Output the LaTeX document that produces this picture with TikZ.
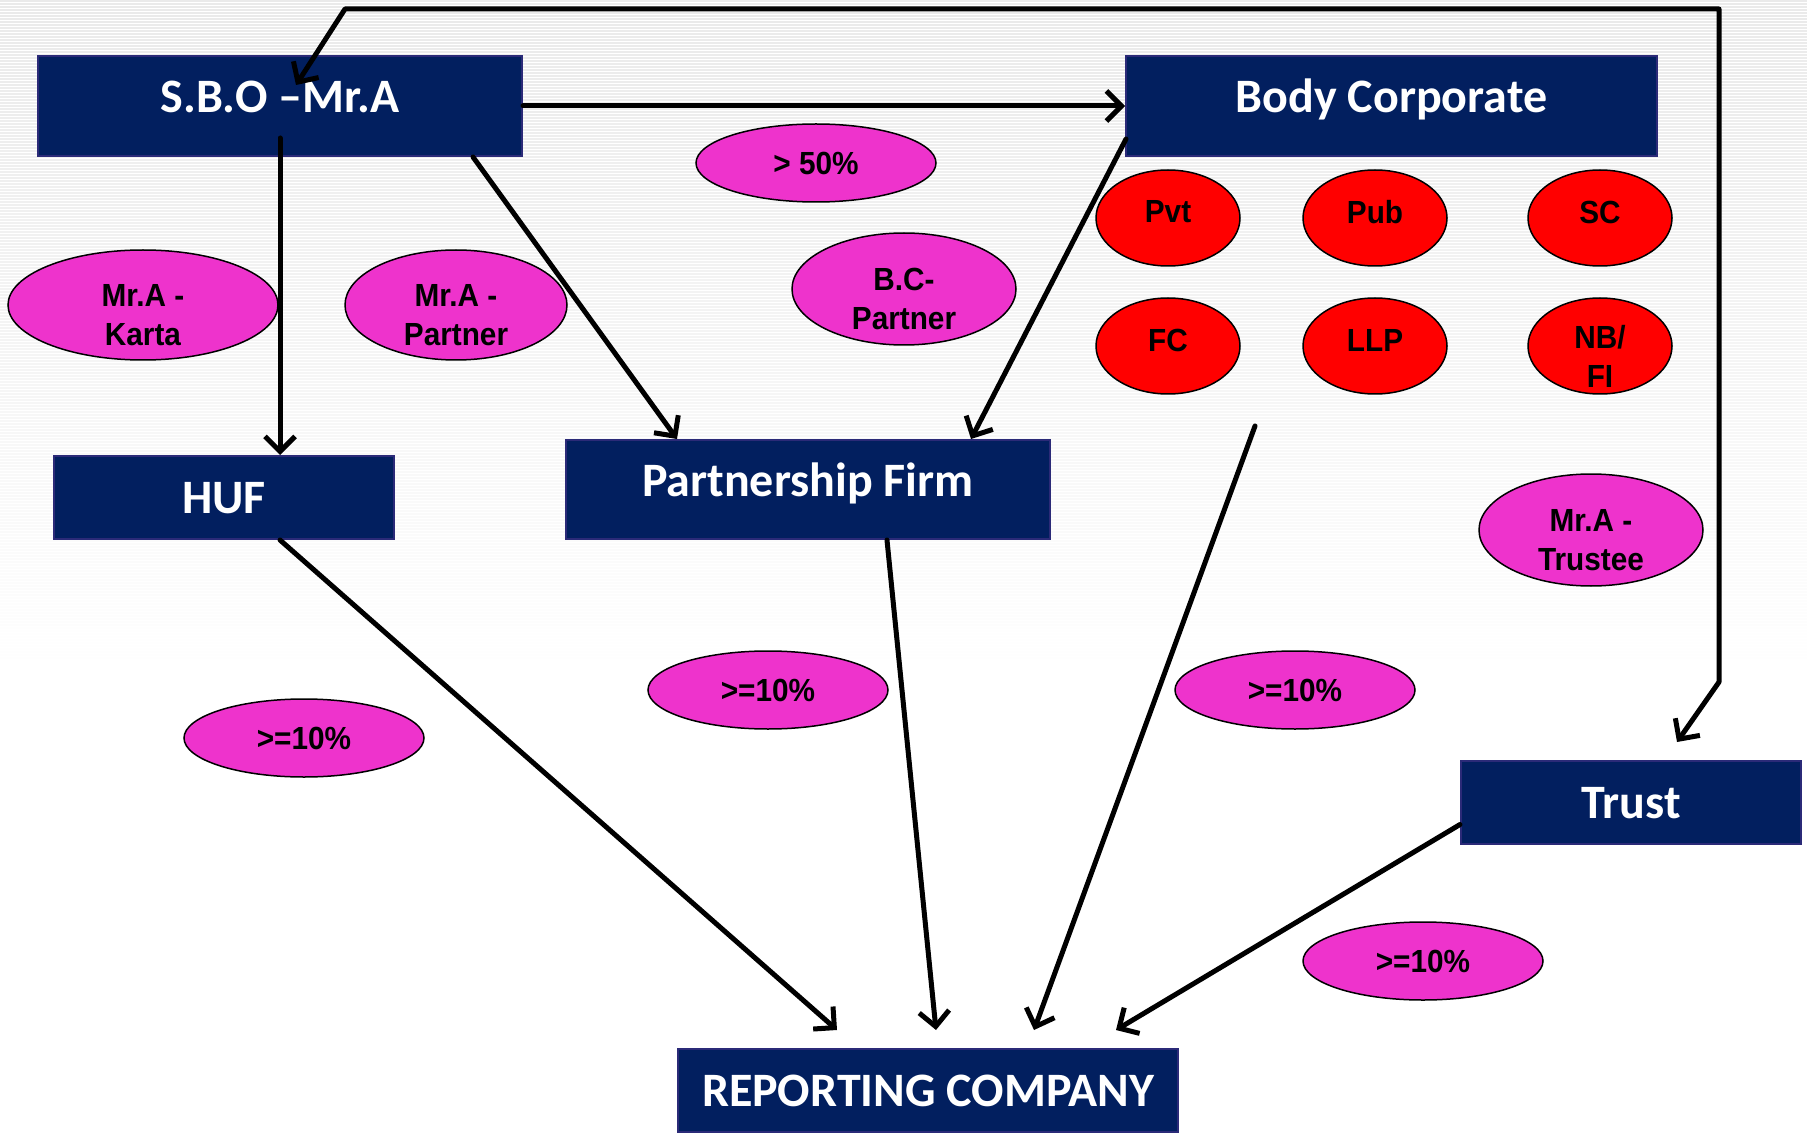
\documentclass[tikz,border=0pt]{standalone}
\usepackage{fontspec}
\setmainfont{Carlito}
\newfontfamily\ellfont[FakeStretch=0.93]{Liberation Sans}
\usetikzlibrary{shapes.geometric,arrows.meta,calc}
\definecolor{navy}{HTML}{021F5F}
\definecolor{navyedge}{HTML}{2B2A78}
\definecolor{pinkfill}{HTML}{EE33CC}
\definecolor{redfill}{HTML}{FF0000}
\begin{document}
\begin{tikzpicture}[x=1pt,y=-1pt,
  entity/.style={rectangle,fill=navy,draw=navyedge,line width=2pt,text=white,
    font=\bfseries\fontsize{48}{52}\selectfont,inner sep=0pt,
    text height=31pt,text depth=0pt},
  raised/.style={text depth=18pt},
  tagtext/.style={align=center,inner sep=0pt,
    font=\ellfont\bfseries\fontsize{32}{39}\selectfont},
  tag/.style={ellipse,fill=pinkfill,draw=black,line width=1.5pt,inner sep=0pt,
    tagtext,minimum width=240pt,minimum height=78pt},
  kind/.style={ellipse,fill=redfill,draw=black,line width=1.5pt,inner sep=0pt,
    tagtext,minimum width=144pt,minimum height=96pt},
  twoline/.style={label={[tagtext,yshift=-10pt]center:{#1}}},
  oneline/.style={label={[tagtext,yshift=6pt]center:{#1}}},
  barb/.tip={Straight Barb[length=15pt,width=30pt]},
  link/.style={line width=5pt,line cap=round,line join=round,-barb}]

% frame and faint striped backdrop
\useasboundingbox (0,0) rectangle (1807,1139);
\fill[white] (0,0) rectangle (1807,1139);
\foreach \y in {1,4,...,660}{
  \pgfmathsetmacro{\op}{0.9*(1-\y/660)}
  \draw[black!9,line width=1.2pt,opacity=\op] (0,\y) -- (1807,\y);
}

% entities
\node[entity,raised,minimum width=484pt,minimum height=100pt] (sbo) at (280,106) {S.B.O –Mr.A};
\node[entity,raised,minimum width=531pt,minimum height=100pt] (bc) at (1391.5,106) {Body Corporate};
\node[entity,minimum width=340pt,minimum height=83pt] (huf) at (224,497.5) {HUF};
\node[entity,raised,minimum width=484pt,minimum height=99pt] (pf) at (808,489.5) {Partnership Firm};
\node[entity,minimum width=340pt,minimum height=83pt] (trust) at (1631,802.5) {Trust};
\node[entity,minimum width=500pt,minimum height=83pt] (rc) at (928,1090.5) {REPORTING COMPANY};

% relationship tags
\node[tag,minimum width=270pt,minimum height=110pt,twoline={Mr.A -\\Karta}] (karta) at (143,305) {};
\node[tag,minimum width=222pt,minimum height=110pt,twoline={Mr.A -\\Partner}] (partner) at (456,305) {};
\node[tag] (gt50) at (816,163) {> 50\%};
\node[tag,minimum width=224pt,minimum height=112pt,twoline={B.C-\\Partner}] (bcp) at (904,289) {};
\node[tag,minimum width=224pt,minimum height=112pt,twoline={Mr.A -\\Trustee}] (trustee) at (1591,530) {};
\node[tag] (tenA) at (304,738) {>=10\%};
\node[tag] (tenB) at (768,690) {>=10\%};
\node[tag] (tenC) at (1295,690) {>=10\%};
\node[tag] (tenD) at (1423,961) {>=10\%};

% kinds of body corporate
\node[kind,oneline={Pvt}] (pvt) at (1168,218) {};
\node[kind,oneline={Pub}] (pub) at (1375,218) {};
\node[kind,oneline={SC}] (sc) at (1600,218) {};
\node[kind,oneline={FC}] (fc) at (1168,346) {};
\node[kind,oneline={LLP}] (llp) at (1375,346) {};
\node[kind,twoline={NB/\\FI}] (nbfi) at (1600,346) {};

% connectors
\coordinate (bcfan) at (1255,426);
\draw[link] (sbo.east) -- (bc.west);
\draw[link] ($(sbo.center)+(0,32)$) -- (sbo.center |- huf.north);
\draw[link] ($(sbo.south east)+(-50,0)$) -- ($(pf.north west)+(112,0)$);
\draw[link] ($(bc.south west)+(1,-18)$) -- ($(pf.north east)+(-80,0)$);
\draw[link] ($(huf.south)+(56,0)$) -- ($(rc.north west)+(160,-18)$);
\draw[link] ($(pf.south)+(79,0)$) -- ($(rc.north)+(8,-18)$);
\draw[link] (bcfan) -- ($(rc.north)+(106,-18)$);
\draw[link] ($(trust.west)+(0,22)$) -- ($(rc.north)+(188,-18)$);
\draw[link,barb-barb]
  ($(sbo.north west)+(259,30)$) -- (345,9) -- (1719,9) -- (1719,682) -- ($(trust.north)+(46,-18)$);
\end{tikzpicture}
\end{document}
